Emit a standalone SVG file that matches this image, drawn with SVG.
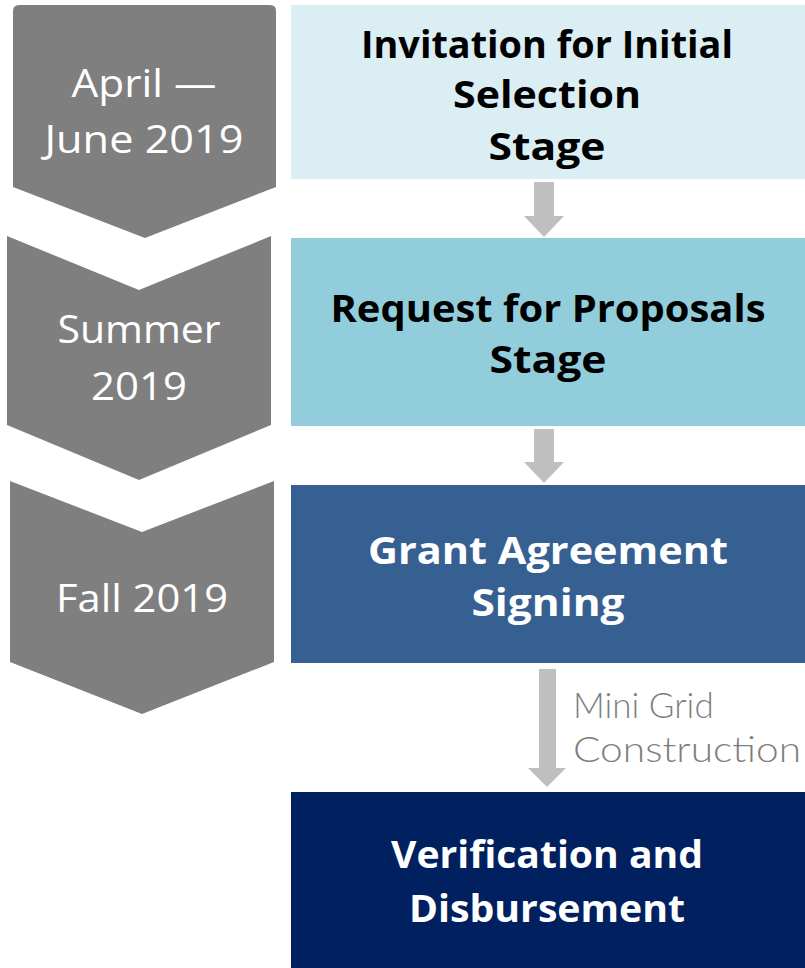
<svg xmlns="http://www.w3.org/2000/svg" width="805" height="968" viewBox="0 0 805 968">
<style>
.chev{fill:#7F7F7F}
.ct{font-family:"Open Sans","Liberation Sans",sans-serif;font-size:38px;fill:#FFFFFF;text-anchor:middle}
.bt{font-family:"Open Sans","Liberation Sans",sans-serif;font-weight:700;font-size:38px;text-anchor:middle}
.arr{fill:#BFBFBF}
.lbl{font-family:"Lato","Open Sans",sans-serif;font-weight:300;font-size:35px;fill:#7F7F7F}
</style>
<g id="chevron1">
<path class="chev" d="M19,5 L270,5 Q276,5 276,11 L276,187 L145,238 L13,187 L13,11 Q13,5 19,5 Z"/>
<text class="ct" x="144" y="97" textLength="145" lengthAdjust="spacingAndGlyphs">April —</text>
<text class="ct" x="144" y="153" textLength="199" lengthAdjust="spacingAndGlyphs">June 2019</text>
</g>
<g id="chevron2">
<path class="chev" d="M7,236 L139,290 L271,236 L271,425 L139,480 L7,425 Z"/>
<text class="ct" x="139" y="343" textLength="163" lengthAdjust="spacingAndGlyphs">Summer</text>
<text class="ct" x="139" y="400" textLength="96" lengthAdjust="spacingAndGlyphs">2019</text>
</g>
<g id="chevron3">
<path class="chev" d="M10,481 L142,532 L274,481 L274,662 L142,714 L10,662 Z"/>
<text class="ct" x="142" y="612" textLength="172" lengthAdjust="spacingAndGlyphs">Fall 2019</text>
</g>
<g id="box1">
<rect x="291" y="5" width="514" height="174" fill="#DAEEF3"/>
<text class="bt" x="547" y="58" fill="#000000" textLength="372" lengthAdjust="spacingAndGlyphs">Invitation for Initial</text>
<text class="bt" x="547" y="108" fill="#000000" textLength="188" lengthAdjust="spacingAndGlyphs">Selection</text>
<text class="bt" x="547" y="160" fill="#000000" textLength="117" lengthAdjust="spacingAndGlyphs">Stage</text>
</g>
<g id="box2">
<rect x="291" y="238" width="514" height="188" fill="#92CDDC"/>
<text class="bt" x="548" y="322" fill="#000000" textLength="435" lengthAdjust="spacingAndGlyphs">Request for Proposals</text>
<text class="bt" x="548" y="373" fill="#000000" textLength="117" lengthAdjust="spacingAndGlyphs">Stage</text>
</g>
<g id="box3">
<rect x="291" y="485" width="514" height="178" fill="#376092"/>
<text class="bt" x="548" y="564" fill="#FFFFFF" textLength="360" lengthAdjust="spacingAndGlyphs">Grant Agreement</text>
<text class="bt" x="548" y="616" fill="#FFFFFF" textLength="153" lengthAdjust="spacingAndGlyphs">Signing</text>
</g>
<g id="box4">
<rect x="291" y="792" width="514" height="176" fill="#002060"/>
<text class="bt" x="547" y="868" fill="#FFFFFF" textLength="312" lengthAdjust="spacingAndGlyphs">Verification and</text>
<text class="bt" x="547" y="922" fill="#FFFFFF" textLength="276" lengthAdjust="spacingAndGlyphs">Disbursement</text>
</g>
<g id="connectors">
<path class="arr" d="M534,182 L554,182 L554,216 L564,216 L544,237 L524,216 L534,216 Z"/>
<path class="arr" d="M534,429 L554,429 L554,462 L564,462 L544,483 L524,462 L534,462 Z"/>
<path class="arr" d="M539,669 L556,669 L556,768 L566,768 L547,787 L528,768 L539,768 Z"/>
<text class="lbl" x="573" y="718">Mini Grid</text>
<text class="lbl" x="573" y="762" textLength="228" lengthAdjust="spacingAndGlyphs">Construction</text>
</g>
</svg>
